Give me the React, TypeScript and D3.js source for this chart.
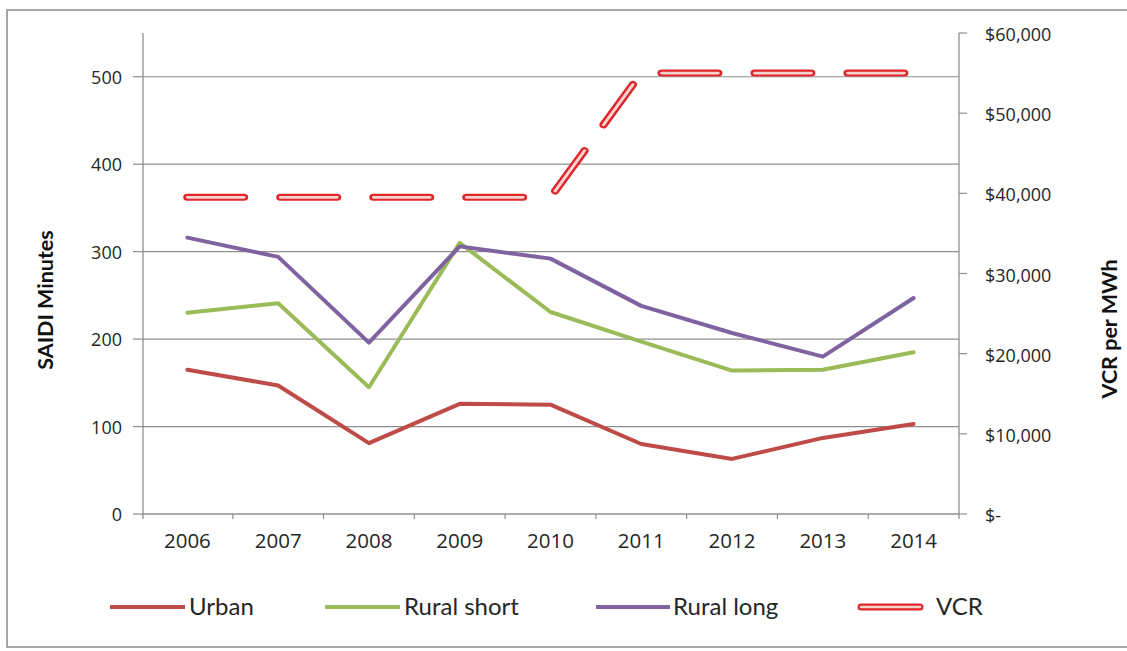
import React from "react";
import * as d3 from "d3";

const years = ["2006", "2007", "2008", "2009", "2010", "2011", "2012", "2013", "2014"];
const urban = [165, 147, 81, 126, 125, 80, 63, 87, 103];
const ruralShort = [230, 241, 145, 310, 231, 197, 164, 165, 185];
const ruralLong = [316, 294, 196, 306, 292, 238, 207, 180, 247];
const vcr = [39500, 39500, 39500, 39500, 39500, 55000, 55000, 55000, 55000];

const leftTicks = [0, 100, 200, 300, 400, 500];
const rightTicks = [0, 10000, 20000, 30000, 40000, 50000, 60000];

const W = 1127;
const H = 651;
const plot = { left: 142, right: 959, top: 33, bottom: 514 };
// the dashed VCR line is laid out in a horizontally compressed space and stretched back
const DASH_STRETCH = 1.2;

const labelFont = "'Open Sans', sans-serif";
const legendFont = "Lato, sans-serif";
const gridColor = "#8f8f8f";
const vcrRed = "#DF262B";
const vcrInner = "#F8D3D0";

const seriesDefs = [
  { name: "Urban", values: urban, color: "#BE4B48" },
  { name: "Rural short", values: ruralShort, color: "#9BBB59" },
  { name: "Rural long", values: ruralLong, color: "#7F63A1" },
];

function fmtMoney(v: number) {
  return v === 0 ? "$-" : "$" + d3.format(",")(v);
}

export default function App() {
  const x = d3.scaleBand<string>().domain(years).range([plot.left, plot.right]).paddingInner(0).paddingOuter(0);
  const cx = (i: number) => (x(years[i]) as number) + x.bandwidth() / 2;
  const xv = d3
    .scaleBand<string>()
    .domain(years)
    .range([plot.left / DASH_STRETCH, plot.right / DASH_STRETCH]);
  const cxv = (i: number) => (xv(years[i]) as number) + xv.bandwidth() / 2;
  const yL = d3.scaleLinear().domain([0, 550]).range([plot.bottom, plot.top]);
  const yR = d3.scaleLinear().domain([0, 60000]).range([plot.bottom, plot.top]);

  const lineL = d3
    .line<number>()
    .x((_, i) => cx(i))
    .y((d) => yL(d));
  const lineR = d3
    .line<number>()
    .x((_, i) => cxv(i))
    .y((d) => yR(d));

  const vcrPath = lineR(vcr) as string;

  const legendItems = [
    { name: "Urban", color: "#BE4B48", x1: 110, x2: 185, tx: 189 },
    { name: "Rural short", color: "#9BBB59", x1: 325, x2: 400, tx: 404 },
    { name: "Rural long", color: "#7F63A1", x1: 596, x2: 670, tx: 673 },
  ];
  const legendY = 607;

  return (
    <svg width={W} height={H} style={{ display: "block", position: "absolute", left: 0, top: 0 }}>
      <rect x={0} y={0} width={W} height={H} fill="#ffffff" />
      <rect x={7} y={10} width={1140} height={637} fill="none" stroke="#8a8a8a" strokeWidth={1.5} />

      {/* horizontal gridlines */}
      {leftTicks
        .filter((t) => t > 0)
        .map((t) => (
          <line key={"g" + t} x1={plot.left} x2={plot.right} y1={yL(t)} y2={yL(t)} stroke={gridColor} strokeWidth={1.2} />
        ))}

      {/* left axis */}
      <line x1={plot.left + 1} x2={plot.left + 1} y1={plot.top} y2={plot.bottom + 5} stroke={gridColor} strokeWidth={1.3} />
      {leftTicks.map((t) => (
        <g key={"l" + t}>
          <line x1={plot.left - 9} x2={plot.left + 1} y1={yL(t)} y2={yL(t)} stroke={gridColor} strokeWidth={1.2} />
          <text x={122} y={yL(t) + 7} textAnchor="end" fontFamily={labelFont} fontSize={18} fill="#262626">
            {t}
          </text>
        </g>
      ))}

      {/* right axis */}
      <line x1={plot.right} x2={plot.right} y1={plot.top} y2={plot.bottom + 5} stroke={gridColor} strokeWidth={1.3} />
      {rightTicks.map((t) => (
        <g key={"r" + t}>
          <line x1={plot.right} x2={plot.right + 8} y1={yR(t)} y2={yR(t)} stroke={gridColor} strokeWidth={1.2} />
          <text x={985} y={yR(t) + 8} textAnchor="start" fontFamily={labelFont} fontSize={18} fill="#262626">
            {fmtMoney(t)}
          </text>
        </g>
      ))}

      {/* category axis */}
      <line x1={plot.left} x2={plot.right} y1={plot.bottom} y2={plot.bottom} stroke={gridColor} strokeWidth={1.3} />
      {years.map((yr, i) => (
        <g key={yr}>
          {i > 0 && (
            <line
              x1={x(yr) as number}
              x2={x(yr) as number}
              y1={plot.bottom}
              y2={plot.bottom + 5}
              stroke={gridColor}
              strokeWidth={1.2}
            />
          )}
          <text x={cx(i)} y={548} textAnchor="middle" fontFamily={labelFont} fontSize={20.5} fill="#262626">
            {yr}
          </text>
        </g>
      ))}

      {/* axis titles */}
      <text
        transform={`translate(53, 300) rotate(-90)`}
        textAnchor="middle"
        fontFamily={legendFont}
        fontWeight="bold"
        fontSize={21.5}
        fill="#111"
      >
        SAIDI Minutes
      </text>
      <text
        transform={`translate(1117, 329) rotate(-90)`}
        textAnchor="middle"
        fontFamily={legendFont}
        fontWeight="bold"
        fontSize={21.5}
        fill="#111"
      >
        VCR per MWh
      </text>

      {/* SAIDI series */}
      {seriesDefs.map((s) => (
        <path
          key={s.name}
          d={lineL(s.values) as string}
          fill="none"
          stroke={s.color}
          strokeWidth={4}
          strokeLinejoin="round"
          strokeLinecap="round"
        />
      ))}

      {/* VCR series: outlined long dashes */}
      <g transform={`scale(${DASH_STRETCH}, 1)`}>
        <path d={vcrPath} fill="none" stroke={vcrRed} strokeWidth={7} strokeDasharray="47.2 30.3" strokeLinecap="round" strokeLinejoin="round" />
        <path d={vcrPath} fill="none" stroke={vcrInner} strokeWidth={2.6} strokeDasharray="47.2 30.3" strokeLinecap="round" strokeLinejoin="round" />
      </g>

      {/* legend */}
      {legendItems.map((it) => (
        <g key={it.name}>
          <line x1={it.x1} x2={it.x2} y1={legendY} y2={legendY} stroke={it.color} strokeWidth={4} />
          <text x={it.tx} y={legendY + 8} fontFamily={legendFont} fontSize={24} fill="#262626">
            {it.name}
          </text>
        </g>
      ))}
      <line x1={861} x2={920} y1={legendY} y2={legendY} stroke={vcrRed} strokeWidth={7} strokeLinecap="round" />
      <line x1={861} x2={920} y1={legendY} y2={legendY} stroke={vcrInner} strokeWidth={2.6} strokeLinecap="round" />
      <text x={936} y={legendY + 8} fontFamily={legendFont} fontSize={24} fill="#262626">
        VCR
      </text>
    </svg>
  );
}
